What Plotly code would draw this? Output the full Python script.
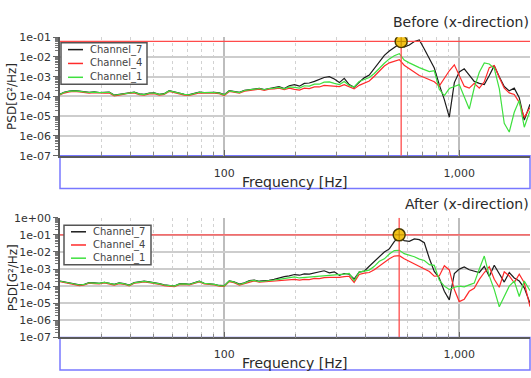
import math
import plotly.graph_objects as go

# ---------------- data ----------------
freq_hz = [20, 20.8, 21.9, 23.0, 24.2, 25.4, 26.6, 28.0, 29.4, 30.9,
           32.4, 34.0, 35.7, 37.5, 39.4, 41.4, 43.5, 45.6, 48.0, 50.4,
           52.9, 55.5, 58.3, 61.3, 64.4, 67.6, 71.0, 74.5, 78.3, 82.2,
           86.3, 90.7, 95.2, 100, 105, 110, 116, 122, 128, 134,
           141, 148, 155, 163, 171, 180, 189, 199, 209, 219,
           230, 242, 254, 266, 280, 294, 309, 324, 340, 357,
           375, 394, 414, 435, 457, 480, 504, 529, 556, 583,
           613, 644, 676, 710, 746, 783, 822, 864, 907, 953,
           1000, 1050, 1103, 1158, 1217, 1278, 1342, 1409, 1480, 1554,
           1632, 1714, 1800, 1891, 2000]

before_ch7 = [1.29e-4, 1.62e-4, 1.86e-4, 1.95e-4, 1.86e-4, 1.70e-4, 1.62e-4, 1.70e-4, 1.58e-4, 1.62e-4,
              1.66e-4, 1.18e-4, 1.29e-4, 1.48e-4, 1.62e-4, 1.66e-4, 1.35e-4, 1.26e-4, 1.48e-4, 1.51e-4,
              1.29e-4, 1.38e-4, 1.95e-4, 1.70e-4, 1.41e-4, 1.29e-4, 1.23e-4, 1.48e-4, 1.66e-4, 1.58e-4,
              1.66e-4, 1.62e-4, 1.51e-4, 1.23e-4, 1.95e-4, 1.78e-4, 1.62e-4, 2.04e-4, 2.24e-4, 2.34e-4,
              2.57e-4, 2.24e-4, 2.57e-4,
              2.75e-4, 3.16e-4, 2.51e-4, 3.47e-4, 3.98e-4, 3.31e-4, 4.57e-4, 4.79e-4, 5.75e-4, 7.24e-4,
              9.12e-4, 1.0e-3, 7.59e-4, 5.01e-4, 8.32e-4, 3.98e-4, 2.88e-4, 5.25e-4, 8.71e-4, 1.20e-3,
              2.51e-3, 5.75e-3, 1.20e-2, 2.0e-2, 3.02e-2, 4.57e-2, 3.16e-2, 3.98e-2, 6.03e-2, 7.24e-2,
              2.51e-2, 8.71e-3, 2.75e-3, 3.98e-4, 6.92e-5, 8.91e-6, 5.01e-4, 1.74e-3, 2.51e-3, 1.20e-3,
              5.75e-4, 4.57e-4, 3.98e-4, 1.15e-3, 3.63e-3, 1.0e-3, 3.16e-4, 1.91e-4, 2.63e-4, 8.71e-5,
              6.31e-6, 3.98e-5]

before_ch4 = [1.20e-4, 1.48e-4, 1.70e-4, 1.78e-4, 1.70e-4, 1.55e-4, 1.48e-4, 1.55e-4, 1.45e-4, 1.48e-4,
              1.51e-4, 1.07e-4, 1.17e-4, 1.35e-4, 1.48e-4, 1.51e-4, 1.23e-4, 1.15e-4, 1.35e-4, 1.38e-4,
              1.17e-4, 1.26e-4, 1.78e-4, 1.55e-4, 1.29e-4, 1.17e-4, 1.12e-4, 1.35e-4, 1.51e-4, 1.45e-4,
              1.51e-4, 1.48e-4, 1.38e-4, 1.12e-4, 1.78e-4, 1.62e-4, 1.48e-4, 1.86e-4, 2.04e-4, 2.14e-4,
              2.34e-4, 2.04e-4, 2.34e-4,
              2.40e-4, 2.63e-4, 2.19e-4, 2.63e-4, 2.29e-4, 2.09e-4, 2.63e-4, 2.51e-4, 3.02e-4, 3.02e-4,
              3.63e-4, 3.47e-4, 3.31e-4, 3.16e-4, 3.98e-4, 3.02e-4, 2.40e-4, 3.63e-4, 4.79e-4, 6.03e-4,
              1.05e-3, 1.82e-3, 3.47e-3, 5.01e-3, 6.03e-3, 7.24e-3, 3.80e-3, 2.51e-3, 1.58e-3, 1.15e-3,
              9.12e-4, 6.92e-4, 5.50e-4, 3.31e-4, 7.94e-4, 2.0e-3, 3.98e-3, 1.26e-3, 3.31e-4, 2.63e-4,
              4.57e-4, 2.63e-4, 5.50e-4, 2.88e-3, 3.63e-3, 9.12e-4, 2.63e-4, 1.51e-4, 1.26e-4, 5.01e-5,
              8.71e-6, 2.75e-5]

before_ch1 = [1.26e-4, 1.58e-4, 1.82e-4, 1.91e-4, 1.82e-4, 1.66e-4, 1.58e-4, 1.66e-4, 1.55e-4, 1.58e-4,
              1.62e-4, 1.15e-4, 1.26e-4, 1.45e-4, 1.58e-4, 1.62e-4, 1.32e-4, 1.23e-4, 1.45e-4, 1.48e-4,
              1.26e-4, 1.35e-4, 1.91e-4, 1.66e-4, 1.38e-4, 1.26e-4, 1.20e-4, 1.45e-4, 1.62e-4, 1.55e-4,
              1.62e-4, 1.58e-4, 1.48e-4, 1.20e-4, 1.91e-4, 1.74e-4, 1.58e-4, 2.0e-4, 2.19e-4, 2.29e-4,
              2.51e-4, 2.19e-4, 2.51e-4,
              2.63e-4, 2.88e-4, 2.40e-4, 3.02e-4, 2.88e-4, 2.63e-4, 3.47e-4, 3.31e-4, 4.17e-4, 4.17e-4,
              5.25e-4, 5.50e-4, 4.57e-4, 3.98e-4, 5.75e-4, 3.63e-4, 3.02e-4, 5.75e-4, 7.24e-4, 9.12e-4,
              1.45e-3, 2.75e-3, 4.79e-3, 7.94e-3, 1.15e-2, 1.45e-2, 6.92e-3, 5.01e-3, 3.63e-3, 2.88e-3,
              2.29e-3, 1.82e-3, 2.0e-3, 2.29e-4, 1.10e-4, 2.51e-4, 3.16e-4, 3.98e-4, 9.55e-5, 2.29e-5,
              2.75e-4, 1.66e-3, 5.01e-3, 4.37e-3, 2.63e-3, 2.51e-4, 4.37e-6, 1.58e-6, 1.58e-5, 6.31e-5,
              2.75e-6, 1.91e-5]

after_ch7 = [1.99e-4, 1.82e-4, 1.62e-4, 1.35e-4, 1.20e-4, 1.29e-4, 1.62e-4, 1.55e-4, 1.48e-4, 1.70e-4,
             1.55e-4, 1.29e-4, 1.55e-4, 1.41e-4, 1.15e-4, 1.62e-4, 1.78e-4, 1.95e-4, 1.78e-4, 1.62e-4,
             1.41e-4, 1.20e-4, 1.07e-4, 1.02e-4, 1.35e-4, 1.41e-4, 1.29e-4, 1.62e-4, 1.95e-4, 1.48e-4,
             1.41e-4, 1.29e-4, 1.10e-4, 1.07e-4, 2.04e-4, 1.78e-4, 1.32e-4, 1.58e-4, 2.09e-4, 2.29e-4,
             1.95e-4, 2.04e-4, 2.19e-4,
             2.51e-4, 3.02e-4, 3.63e-4, 3.98e-4, 4.79e-4, 4.37e-4, 5.25e-4, 5.01e-4, 6.03e-4, 7.24e-4,
             7.94e-4, 6.03e-4, 6.92e-4, 4.37e-4, 5.50e-4, 5.01e-4, 2.63e-4, 6.61e-4, 7.59e-4, 1.45e-3,
             2.75e-3, 5.50e-3, 1.0e-2, 1.51e-2, 3.98e-2, 8.32e-2, 4.57e-2, 4.17e-2, 5.75e-2, 5.25e-2,
             3.47e-2, 4.17e-3, 7.24e-4, 3.02e-4, 5.01e-5, 1.58e-5, 5.50e-4, 1.0e-3, 1.32e-3, 9.12e-4,
             7.24e-4, 6.31e-4, 1.45e-3, 3.63e-4, 1.66e-3, 5.01e-4, 1.74e-4, 6.31e-4, 3.02e-4, 2.0e-4,
             7.94e-5, 1.0e-5]

after_ch4 = [1.82e-4, 1.66e-4, 1.48e-4, 1.23e-4, 1.09e-4, 1.17e-4, 1.48e-4, 1.41e-4, 1.35e-4, 1.55e-4,
             1.41e-4, 1.17e-4, 1.41e-4, 1.29e-4, 1.05e-4, 1.48e-4, 1.62e-4, 1.78e-4, 1.62e-4, 1.48e-4,
             1.29e-4, 1.09e-4, 0.98e-4, 0.93e-4, 1.23e-4, 1.29e-4, 1.17e-4, 1.48e-4, 1.78e-4, 1.35e-4,
             1.29e-4, 1.17e-4, 1.00e-4, 0.98e-4, 1.86e-4, 1.62e-4, 1.17e-4, 1.41e-4, 1.86e-4, 2.04e-4,
             1.70e-4, 1.78e-4, 1.86e-4,
             2.09e-4, 2.19e-4, 2.09e-4, 2.40e-4, 2.51e-4, 2.29e-4, 2.51e-4, 2.40e-4, 2.88e-4, 2.75e-4,
             3.16e-4, 3.31e-4, 3.16e-4, 3.31e-4, 3.63e-4, 3.80e-4, 1.66e-4, 4.79e-4, 5.75e-4, 6.31e-4,
             9.12e-4, 1.51e-3, 2.40e-3, 3.98e-3, 5.75e-3, 6.03e-3, 3.98e-3, 2.88e-3, 2.09e-3, 1.51e-3,
             1.0e-3, 7.24e-4, 3.80e-4, 3.98e-4, 1.58e-3, 8.91e-4, 6.31e-5, 1.26e-5, 1.74e-5, 5.01e-5,
             7.59e-5, 2.51e-4, 6.31e-4, 1.38e-3, 2.51e-4, 8.71e-5, 6.92e-4, 3.98e-4, 1.58e-4, 5.01e-4,
             1.58e-4, 6.31e-6]

after_ch1 = [1.95e-4, 1.78e-4, 1.58e-4, 1.32e-4, 1.17e-4, 1.26e-4, 1.58e-4, 1.51e-4, 1.45e-4, 1.66e-4,
             1.51e-4, 1.26e-4, 1.51e-4, 1.38e-4, 1.12e-4, 1.58e-4, 1.74e-4, 1.91e-4, 1.74e-4, 1.58e-4,
             1.38e-4, 1.17e-4, 1.05e-4, 1.00e-4, 1.32e-4, 1.38e-4, 1.26e-4, 1.58e-4, 1.91e-4, 1.45e-4,
             1.38e-4, 1.26e-4, 1.07e-4, 1.05e-4, 2.0e-4, 1.74e-4, 1.26e-4, 1.51e-4, 2.0e-4, 2.19e-4,
             1.82e-4, 1.91e-4, 2.0e-4,
             2.29e-4, 2.51e-4, 2.88e-4, 3.16e-4, 3.47e-4, 3.02e-4, 3.16e-4, 3.47e-4, 3.80e-4, 3.63e-4,
             3.98e-4, 4.37e-4, 4.17e-4, 4.79e-4, 5.01e-4, 5.50e-4, 2.09e-4, 6.61e-4, 7.59e-4, 8.71e-4,
             1.45e-3, 2.88e-3, 3.98e-3, 7.59e-3, 1.20e-2, 1.26e-2, 7.94e-3, 6.61e-3, 5.25e-3, 3.80e-3,
             3.16e-3, 1.82e-3, 1.66e-3, 2.29e-4, 1.0e-4, 6.31e-5, 8.71e-5, 1.0e-4, 9.12e-5, 1.20e-4,
             1.51e-4, 1.0e-3, 5.75e-3, 3.98e-4, 6.31e-5, 6.31e-6, 2.75e-5, 1.0e-4, 2.0e-4, 2.51e-5,
             2.0e-4, 5.50e-5]

channel_names = ["Channel_7", "Channel_4", "Channel_1"]
panel_titles = ["Before (x-direction)", "After (x-direction)"]
peak_freq = [566, 555]          # cursor frequency [Hz]
peak_value = [6.1e-2, 1.0e-1]   # cursor PSD level

x_range_hz = [20, 2000]
x_tick_vals = [100, 1000]
x_tick_text = ["100", "1,000"]
y_top_tick_vals = [1e-7, 1e-6, 1e-5, 1e-4, 1e-3, 1e-2, 1e-1]
y_top_tick_text = ["1e-07", "1e-06", "1e-05", "1e-04", "1e-03", "1e-02", "1e-01"]
y_bot_tick_vals = [1e-7, 1e-6, 1e-5, 1e-4, 1e-3, 1e-2, 1e-1, 1e0]
y_bot_tick_text = ["1e-07", "1e-06", "1e-05", "1e-04", "1e-03", "1e-02", "1e-01", "1e+00"]

# ---------------- style ----------------
W, H = 531, 378
FONT = "DejaVu Sans"
COLORS = ["#1c1c1c", "#ff2b2b", "#3fe03f"]
CURSOR = "#ff4b4b"
BLUE = "#7878ff"


def px_x(p):
    return p / W


def px_y(p):
    return 1 - p / H


x_dom = [px_x(60), px_x(530)]
top_dom = [px_y(155), px_y(32.3)]
bot_dom = [px_y(343.3), px_y(219.3)]

x_minor = [m * 10 ** e for e in (1, 2) for m in range(2, 10)] + [2000]
y_minor = [m * 10 ** e for e in range(-7, 0) for m in range(2, 10)]

fig = go.Figure()

panels = [
    ("x", "y", [before_ch7, before_ch4, before_ch1], [1e-7, 1e-1]),
    ("x2", "y2", [after_ch7, after_ch4, after_ch1], [1e-7, 1e0]),
]

for i, (xa, ya, series, yr) in enumerate(panels):
    for name, vals, col in zip(channel_names, series, COLORS):
        fig.add_trace(go.Scatter(x=freq_hz, y=vals, mode="lines", name=name,
                                 line=dict(color=col, width=1.2),
                                 xaxis=xa, yaxis=ya, showlegend=False,
                                 hoverinfo="skip"))
    # cursor lines
    fig.add_trace(go.Scatter(x=x_range_hz, y=[peak_value[i]] * 2, mode="lines",
                             line=dict(color=CURSOR, width=1.3), xaxis=xa, yaxis=ya,
                             showlegend=False, hoverinfo="skip"))
    fig.add_trace(go.Scatter(x=[peak_freq[i]] * 2, y=yr, mode="lines",
                             line=dict(color=CURSOR, width=1.3), xaxis=xa, yaxis=ya,
                             showlegend=False, hoverinfo="skip"))
    fig.add_trace(go.Scatter(x=[peak_freq[i]], y=[peak_value[i]], mode="markers",
                             marker=dict(symbol="circle", size=12, color="#f2c21b",
                                         line=dict(color="#4a3b00", width=1.5)),
                             xaxis=xa, yaxis=ya, showlegend=False, hoverinfo="skip"))
    fig.add_trace(go.Scatter(x=[peak_freq[i]], y=[peak_value[i]], mode="markers",
                             marker=dict(symbol="cross-thin", size=7,
                                         line=dict(color="#c08a00", width=1)),
                             xaxis=xa, yaxis=ya, showlegend=False, hoverinfo="skip"))


def xaxis_cfg(anchor):
    return dict(type="log", range=[math.log10(x_range_hz[0]), math.log10(x_range_hz[1])],
                domain=x_dom, anchor=anchor,
                tickmode="array", tickvals=x_tick_vals, ticktext=x_tick_text,
                ticks="inside", ticklen=6, tickcolor="#666", tickwidth=1,
                showline=True, linecolor="#5a5a5a", linewidth=1.5,
                showgrid=True, gridcolor="#bdbdbd", gridwidth=1.5,
                tickfont=dict(family=FONT, size=11, color="#333"),
                ticklabelstandoff=6, zeroline=False,
                minor=dict(tickmode="array", tickvals=x_minor, ticks="inside", ticklen=4,
                           tickcolor="#888", showgrid=True, gridcolor="#d2d2d2",
                           griddash="dot", gridwidth=1))


def yaxis_cfg(anchor, dom, yr, tv, tt):
    return dict(type="log", range=[math.log10(yr[0]), math.log10(yr[1])], domain=dom,
                anchor=anchor, tickmode="array", tickvals=tv, ticktext=tt,
                ticks="outside", ticklen=5, tickcolor="#666", tickwidth=1,
                showline=True, linecolor="#5a5a5a", linewidth=1.5,
                showgrid=True, gridcolor="#cdcdcd", gridwidth=1.5,
                tickfont=dict(family=FONT, size=11, color="#333"), zeroline=False,
                minor=dict(tickmode="array", tickvals=y_minor, ticks="outside",
                           ticklen=3, tickcolor="#777", showgrid=False))


shapes = []
annotations = []
# blue boxes under x axes
for top, bot in [(155, 189), (343.3, 377)]:
    shapes.append(dict(type="rect", xref="paper", yref="paper", x0=px_x(60), x1=px_x(530),
                       y0=px_y(bot), y1=px_y(top), line=dict(color=BLUE, width=1.5),
                       layer="below"))

# legends (one per panel)
for (lx0, ly0, lx1, ly1) in [(61, 38, 147, 81), (64, 227, 151, 268)]:
    shapes.append(dict(type="rect", xref="paper", yref="paper", x0=px_x(lx0), x1=px_x(lx1),
                       y0=px_y(ly1), y1=px_y(ly0), line=dict(color="#555", width=1.5),
                       fillcolor="white", layer="above"))
    step = (ly1 - ly0) / 3.0
    for k, (name, col) in enumerate(zip(channel_names, COLORS)):
        yy = ly0 + step * (k + 0.5)
        shapes.append(dict(type="line", xref="paper", yref="paper",
                           x0=px_x(lx0 + 7), x1=px_x(lx0 + 22), y0=px_y(yy), y1=px_y(yy),
                           line=dict(color=col, width=1.5), layer="above"))
        annotations.append(dict(text=name, xref="paper", yref="paper", x=px_x(lx0 + 27),
                                y=px_y(yy), xanchor="left", yanchor="middle", showarrow=False,
                                font=dict(family=FONT, size=10, color="#444")))

# titles
for title, yc in zip(panel_titles, [17, 205]):
    annotations.append(dict(text=title, xref="paper", yref="paper", x=1.0, y=px_y(yc),
                            xanchor="right", yanchor="middle", showarrow=False,
                            font=dict(family=FONT, size=14, color="#2a2a2a")))
# axis titles
for yc in [93.6, 281.3]:
    annotations.append(dict(text="PSD[G²/Hz]", xref="paper", yref="paper", x=px_x(12.5),
                            y=px_y(yc), xanchor="center", yanchor="middle", textangle=-90,
                            showarrow=False, font=dict(family=FONT, size=12, color="#2a2a2a")))
for yc in [182, 370]:
    annotations.append(dict(text="Frequency [Hz]", xref="paper", yref="paper", x=px_x(295),
                            y=px_y(yc), xanchor="center", yanchor="middle", showarrow=False,
                            font=dict(family=FONT, size=14, color="#2a2a2a")))

fig.update_layout(
    width=W, height=H,
    margin=dict(l=0, r=0, t=0, b=0),
    paper_bgcolor="white", plot_bgcolor="white",
    showlegend=False,
    xaxis=xaxis_cfg("y"),
    yaxis=yaxis_cfg("x", top_dom, [1e-7, 1e-1], y_top_tick_vals, y_top_tick_text),
    xaxis2=xaxis_cfg("y2"),
    yaxis2=yaxis_cfg("x2", bot_dom, [1e-7, 1e0], y_bot_tick_vals, y_bot_tick_text),
    shapes=shapes,
    annotations=annotations,
)

fig.write_html("out.html", config={"displayModeBar": False},
               post_script="document.body.style.margin='0';document.body.style.overflow='hidden';")
